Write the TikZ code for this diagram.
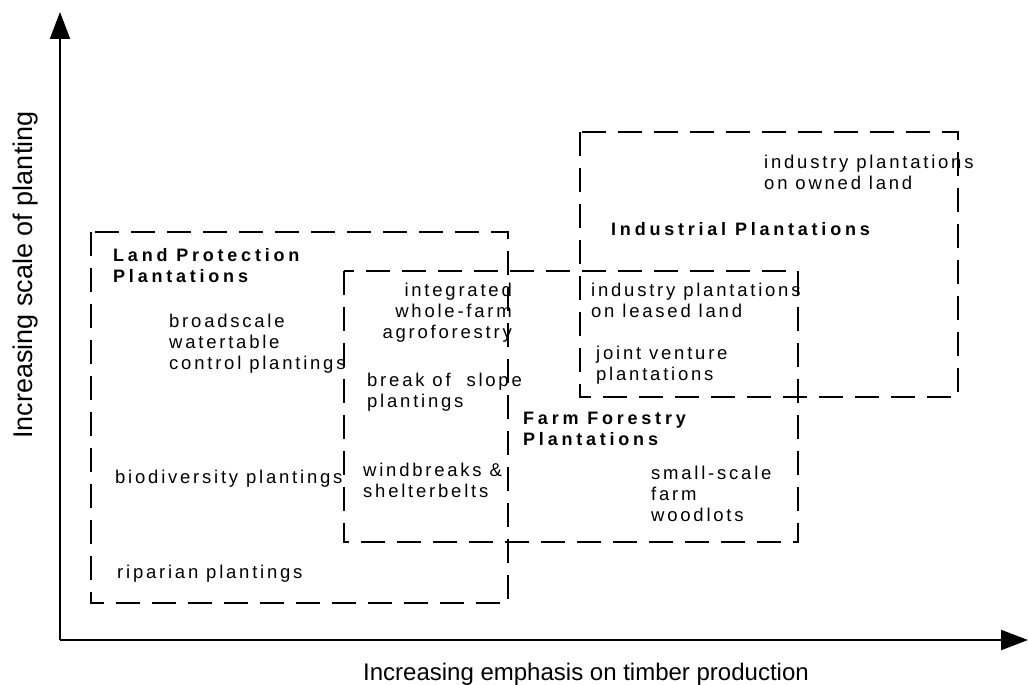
\documentclass[tikz,border=0pt]{standalone}
\usepackage{fontspec}
\setmainfont{Liberation Sans}
\newfontfamily\trackedfont{Liberation Sans}[LetterSpace=15]
\usetikzlibrary{arrows.meta}

\tikzset{
  zone/.style={draw, line width=1.5pt, dash pattern=on 24pt off 12pt},
  axisline/.style={line width=2pt, -{Triangle[length=27pt,width=20pt]}},
  itemtext/.style={anchor=north west, inner sep=0pt, align=left,
    font=\trackedfont\fontsize{18.5}{21}\selectfont,
    execute at begin node=\strut},
  grouptitle/.style={itemtext,
    font=\trackedfont\bfseries\addfontfeature{LetterSpace=21}\fontsize{18}{21}\selectfont},
}

\begin{document}
\begin{tikzpicture}[x=1pt, y=-1pt]
  \useasboundingbox (0,0) rectangle (1028,685);

  % axes
  \coordinate (origin) at (60,640);
  \coordinate (ytip) at (60,12);
  \coordinate (xtip) at (1028,640);
  \draw[axisline] (origin) -- (ytip);
  \draw[axisline] (origin) -- (xtip);

  \node (xlabel) [anchor=base west, inner sep=0pt, font=\fontsize{24}{28}\selectfont]
    at (363,680) {Increasing emphasis on timber production};
  \node (ylabel) [anchor=base, rotate=90, inner sep=0pt, font=\fontsize{27}{30}\selectfont]
    at (32,275) {Increasing scale of planting};

  % the three plantation zones
  \draw[zone] (91,232) rectangle (508,603);
  \draw[zone] (344,271) rectangle (798,542);
  \draw[zone] (580,132) rectangle (958,397);

  % Land Protection Plantations
  \node (lptitle) [grouptitle] at (113,248.3) {Land Protection\\Plantations};
  \node (broad) [itemtext] at (169,314.3) {broadscale\\watertable\\control plantings};
  \node (biodiv) [itemtext] at (115,468.3) {biodiversity plantings};
  \node (riparian) [itemtext] at (117,563.3) {riparian plantings};

  % Farm Forestry Plantations
  \node (agro) [itemtext, anchor=north east, align=right] at (512,283.3) {integrated\\whole-farm\\agroforestry};
  \node (slope) [itemtext] at (367,373.3) {break of \ slope\\plantings};
  \node (wind) [itemtext] at (363,463.3) {windbreaks \&\\shelterbelts};
  \node (fftitle) [grouptitle] at (523,412.3) {Farm Forestry\\Plantations};
  \node (woodlots) [itemtext] at (651,466.3) {small-scale\\farm\\woodlots};

  % Industrial Plantations
  \node (leased) [itemtext] at (591,283) {industry plantations\\on leased land};
  \node (joint) [itemtext] at (596,346.3) {joint venture\\plantations};
  \node (indtitle) [grouptitle] at (611,220.3) {Industrial Plantations};
  \node (owned) [itemtext] at (764,155.3) {industry plantations\\on owned land};
\end{tikzpicture}
\end{document}
